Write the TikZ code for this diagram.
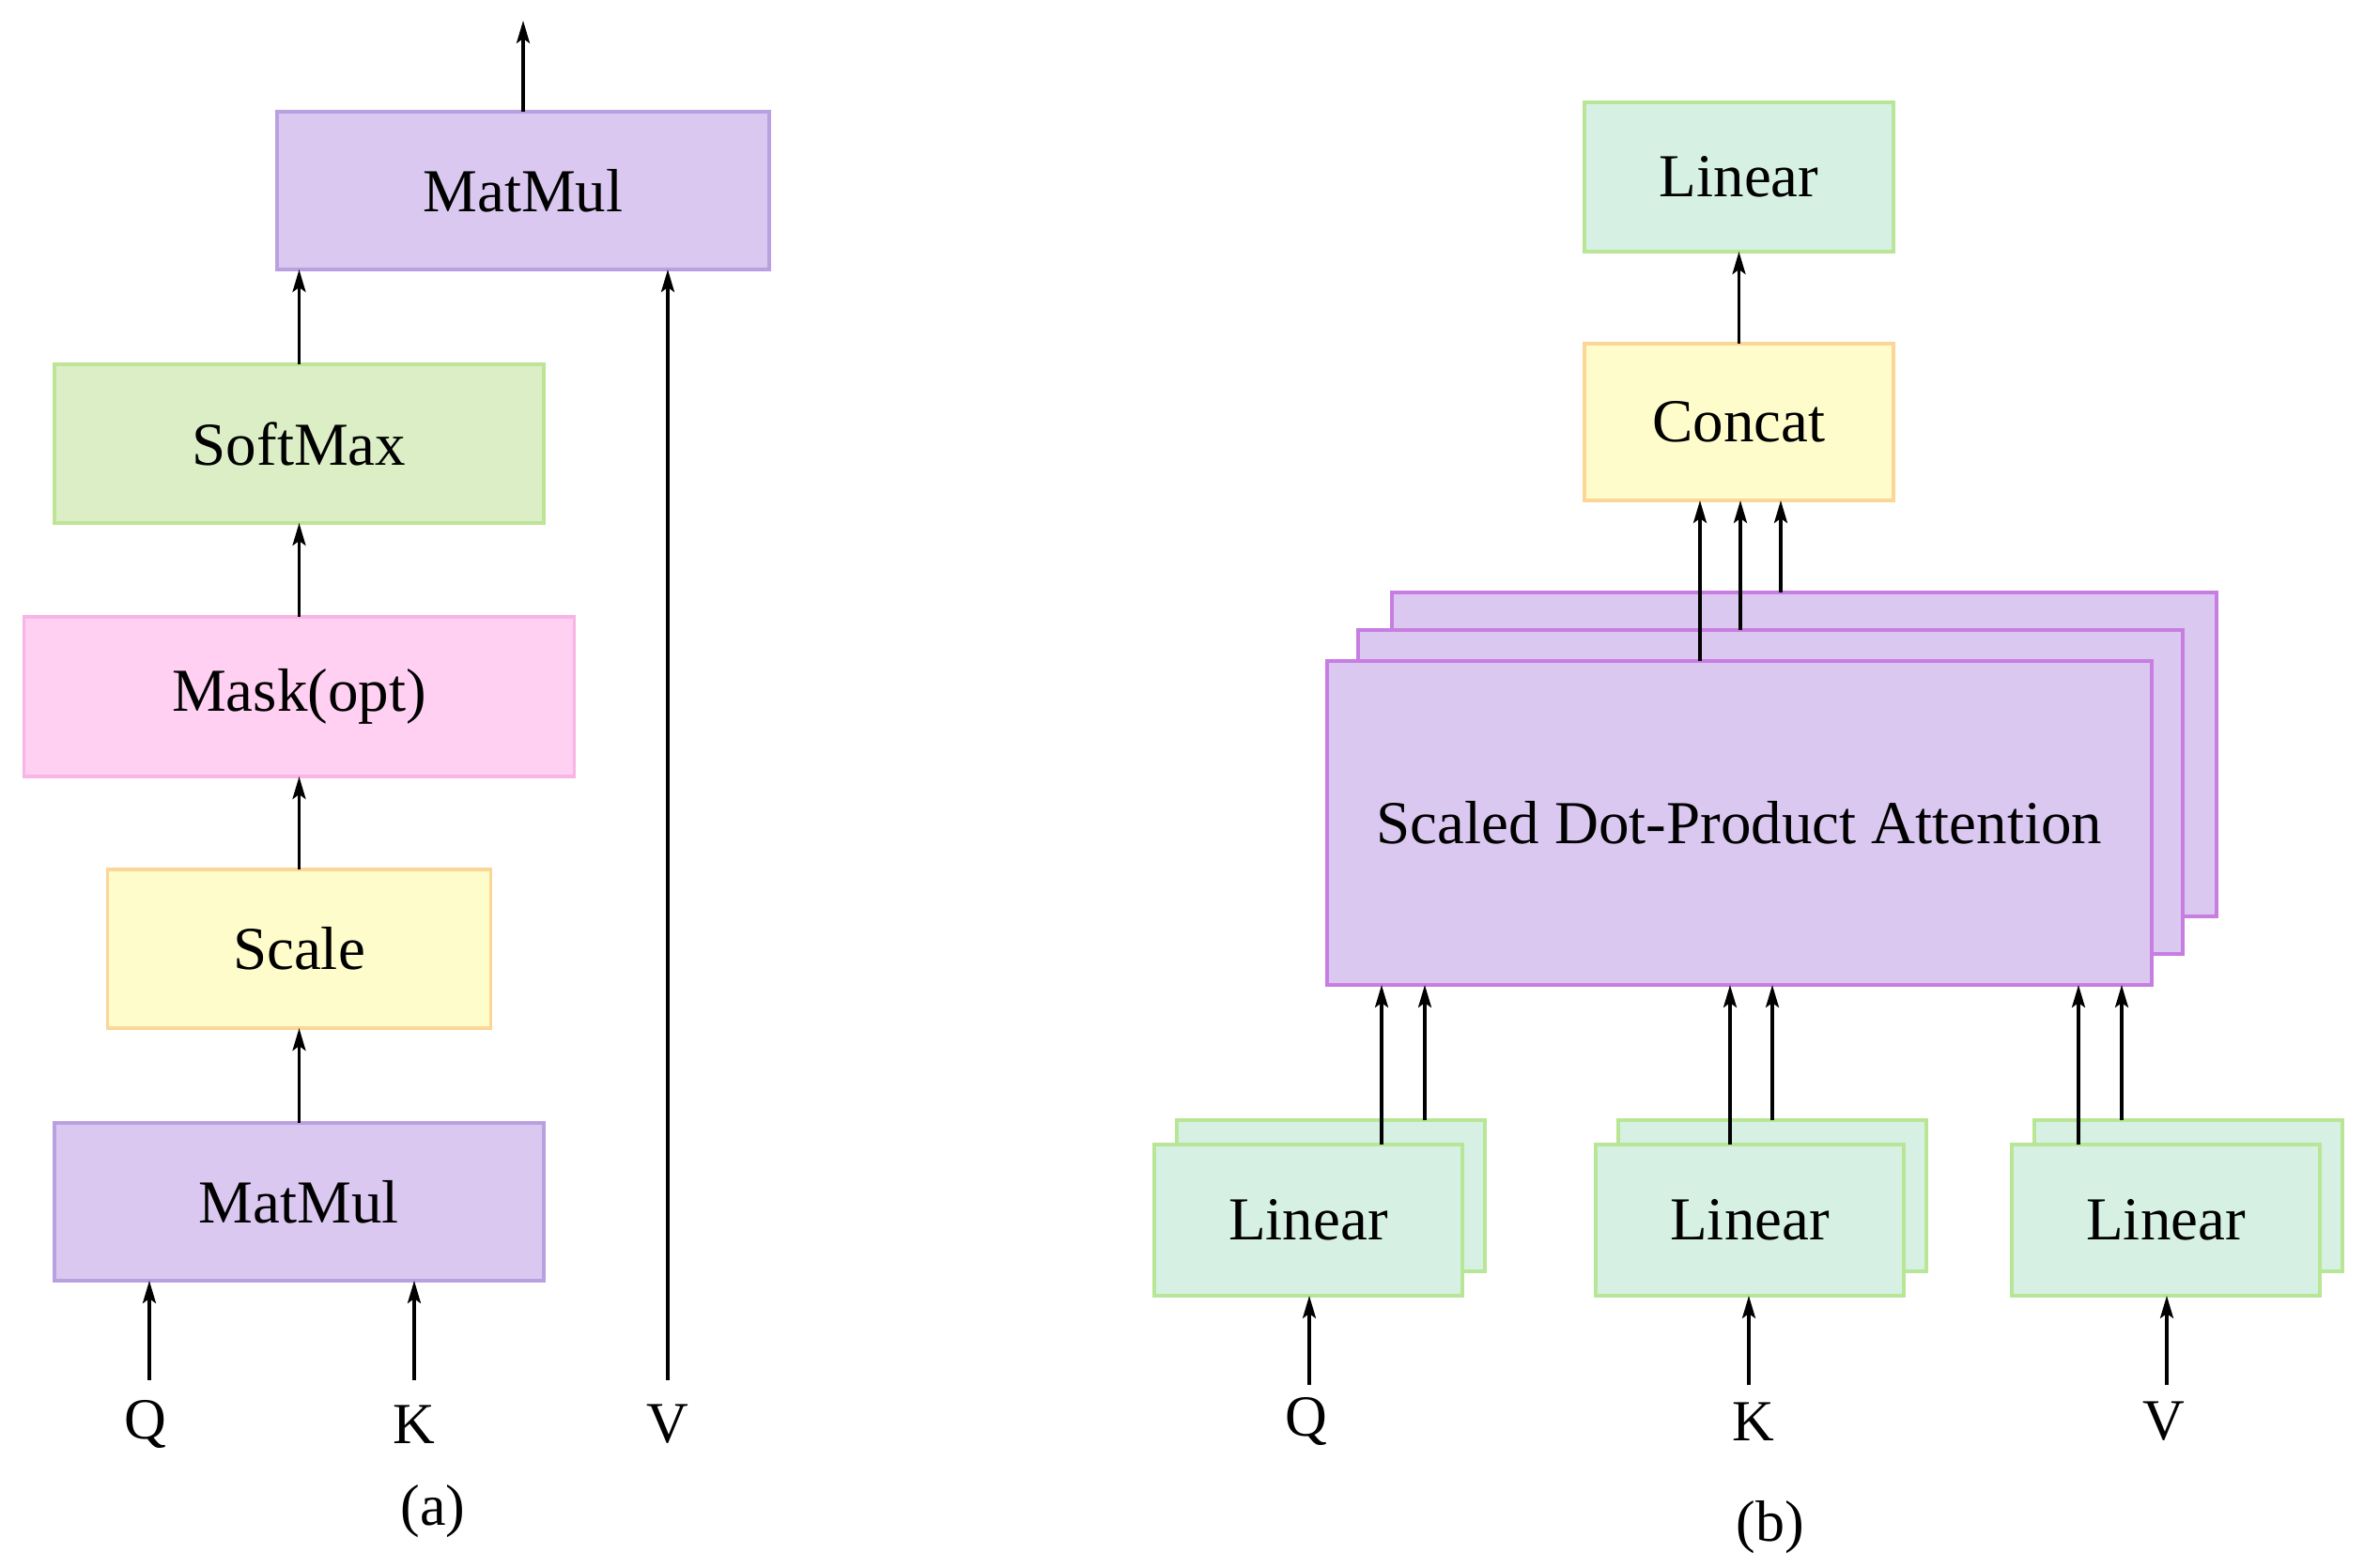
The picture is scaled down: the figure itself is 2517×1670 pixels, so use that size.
\documentclass[tikz,border=0pt]{standalone}
\usepackage{fontspec}
\setmainfont{Liberation Serif}
\usetikzlibrary{arrows.meta}
\definecolor{mmfill}{RGB}{218,200,240}
\definecolor{mmdraw}{RGB}{185,160,225}
\definecolor{sdfill}{RGB}{218,200,240}
\definecolor{sddraw}{RGB}{200,125,225}
\definecolor{smfill}{RGB}{219,238,198}
\definecolor{smdraw}{RGB}{190,228,150}
\definecolor{mkfill}{RGB}{255,208,242}
\definecolor{mkdraw}{RGB}{248,180,228}
\definecolor{scfill}{RGB}{254,252,202}
\definecolor{scdraw}{RGB}{252,214,150}
\definecolor{lnfill}{RGB}{214,241,228}
\definecolor{lndraw}{RGB}{184,230,150}
\tikzset{
  box/.style={draw, line width=3.5pt, inner sep=0pt, outer sep=0pt, font=\fontsize{65}{78}\selectfont},
  mmbox/.style={box, fill=mmfill, draw=mmdraw},
  sdbox/.style={box, fill=sdfill, draw=sddraw, minimum width=878pt, minimum height=345pt},
  smbox/.style={box, fill=smfill, draw=smdraw},
  mkbox/.style={box, fill=mkfill, draw=mkdraw},
  scbox/.style={box, fill=scfill, draw=scdraw},
  lnbox/.style={box, fill=lnfill, draw=lndraw, minimum width=328pt, minimum height=161pt},
  lbl/.style={inner sep=0pt, font=\fontsize{62}{74}\selectfont},
  arr/.style={line width=3.5pt, -{Stealth[length=24pt,width=14pt,inset=5pt]}}
}
\begin{document}
\begin{tikzpicture}[x=1pt,y=-1pt]
\useasboundingbox (0,0) rectangle (2517,1670);
\fill[white] (0,0) rectangle (2517,1670);
% ---------- (a) ----------
\node[mmbox, minimum width=524pt, minimum height=168pt] (mm2) at (557,203) {MatMul};
\node[smbox, minimum width=521pt, minimum height=169pt] (sm) at (318.5,472.5) {SoftMax};
\node[mkbox, minimum width=586pt, minimum height=170pt] (mk) at (318.5,742) {Mask(opt)};
\node[scbox, minimum width=408pt, minimum height=169pt] (sc) at (318.5,1010.5) {Scale};
\node[mmbox, minimum width=521pt, minimum height=168pt] (mm1) at (318.5,1280) {MatMul};
\coordinate (outa) at (557,22);
\coordinate (qa) at (159,1470);
\coordinate (ka) at (441,1470);
\coordinate (va) at (711,1470);
\draw[arr] (mm2.north) -- (outa);
\draw[arr] (sm.north) -- (mm2.south -| sm.north);
\draw[arr] (mk.north) -- (sm.south);
\draw[arr] (sc.north) -- (mk.south);
\draw[arr] (mm1.north) -- (sc.south);
\draw[arr] (qa) -- (mm1.south -| qa);
\draw[arr] (ka) -- (mm1.south -| ka);
\draw[arr] (va) -- (mm2.south -| va);
\node[lbl] (qal) at (155,1517) {Q};
\node[lbl] (kal) at (441,1517) {K};
\node[lbl] (val) at (711,1517) {V};
\node[lbl] (capa) at (461,1610) {(a)};
% ---------- (b) ----------
\node[lnbox, minimum width=329pt, minimum height=159pt] (lt) at (1851.5,188.5) {Linear};
\node[scbox, minimum width=329pt, minimum height=167pt] (cc) at (1851.5,449.5) {Concat};
\node[sdbox] (sd3) at (1921,803.5) {};
\node[sdbox] (sd2) at (1885,843.5) {};
\node[sdbox] (sd1) at (1852,876.5) {Scaled Dot-Product Attention};
\node[lnbox] (qb2) at (1417,1273.5) {};
\node[lnbox] (qb1) at (1393,1299.5) {Linear};
\node[lnbox] (kb2) at (1887,1273.5) {};
\node[lnbox] (kb1) at (1863,1299.5) {Linear};
\node[lnbox] (vb2) at (2330,1273.5) {};
\node[lnbox] (vb1) at (2306,1299.5) {Linear};
\draw[arr] (cc.north) -- (lt.south);
\coordinate (c1) at (1810,0);
\coordinate (c2) at (1853,0);
\coordinate (c3) at (1896,0);
\draw[arr] (sd1.north -| c1) -- (cc.south -| c1);
\draw[arr] (sd2.north -| c2) -- (cc.south -| c2);
\draw[arr] (sd3.north -| c3) -- (cc.south -| c3);
\coordinate (q1) at (1471,0);
\coordinate (q2) at (1517,0);
\coordinate (k1) at (1842,0);
\coordinate (k2) at (1887,0);
\coordinate (v1) at (2213,0);
\coordinate (v2) at (2259,0);
\draw[arr] (qb1.north -| q1) -- (sd1.south -| q1);
\draw[arr] (qb2.north -| q2) -- (sd1.south -| q2);
\draw[arr] (kb1.north -| k1) -- (sd1.south -| k1);
\draw[arr] (kb2.north -| k2) -- (sd1.south -| k2);
\draw[arr] (vb1.north -| v1) -- (sd1.south -| v1);
\draw[arr] (vb2.north -| v2) -- (sd1.south -| v2);
\coordinate (qin) at (1394,1475);
\coordinate (kin) at (1862,1475);
\coordinate (vin) at (2307,1475);
\draw[arr] (qin) -- (qb1.south -| qin);
\draw[arr] (kin) -- (kb1.south -| kin);
\draw[arr] (vin) -- (vb1.south -| vin);
\node[lbl] (qbl) at (1391,1514) {Q};
\node[lbl] (kbl) at (1867,1514) {K};
\node[lbl] (vbl) at (2304,1514) {V};
\node[lbl] (capb) at (1885,1627) {(b)};
\end{tikzpicture}
\end{document}
